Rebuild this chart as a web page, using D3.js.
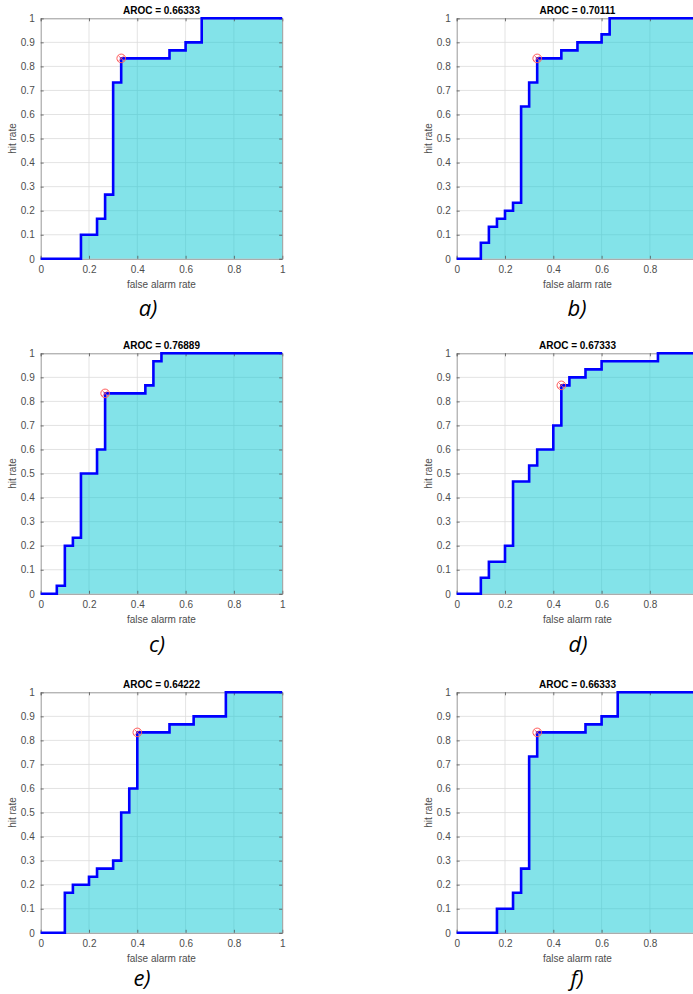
<!DOCTYPE html>
<html>
<head>
<meta charset="utf-8">
<script src="https://cdn.jsdelivr.net/npm/d3@7"></script>
<style>
  body { margin: 0; background: #fff; }
  svg { display: block; }
  .tick text { font-family: "Liberation Sans", Arial, sans-serif; font-size: 10px; fill: #4d4d4d; }
</style>
</head>
<body>
<svg id="chart" width="693" height="994"></svg>
<script>
// ROC step curves (false alarm rate / hit rate)
var aX = [0, 0.1667, 0.1667, 0.2333, 0.2333, 0.2667, 0.2667, 0.3, 0.3, 0.3333, 0.3333, 0.5333, 0.5333, 0.6, 0.6, 0.6667, 0.6667, 1];
var aY = [0, 0, 0.1, 0.1, 0.1667, 0.1667, 0.2667, 0.2667, 0.7333, 0.7333, 0.8333, 0.8333, 0.8667, 0.8667, 0.9, 0.9, 1, 1];

var bX = [0, 0.1, 0.1, 0.1333, 0.1333, 0.1667, 0.1667, 0.2, 0.2, 0.2333, 0.2333, 0.2667, 0.2667, 0.3, 0.3, 0.3333, 0.3333, 0.4333, 0.4333, 0.5, 0.5, 0.6, 0.6, 0.6333, 0.6333, 1];
var bY = [0, 0, 0.0667, 0.0667, 0.1333, 0.1333, 0.1667, 0.1667, 0.2, 0.2, 0.2333, 0.2333, 0.6333, 0.6333, 0.7333, 0.7333, 0.8333, 0.8333, 0.8667, 0.8667, 0.9, 0.9, 0.9333, 0.9333, 1, 1];

var cX = [0, 0.0667, 0.0667, 0.1, 0.1, 0.1333, 0.1333, 0.1667, 0.1667, 0.2333, 0.2333, 0.2667, 0.2667, 0.4333, 0.4333, 0.4667, 0.4667, 0.5, 0.5, 1];
var cY = [0, 0, 0.0333, 0.0333, 0.2, 0.2, 0.2333, 0.2333, 0.5, 0.5, 0.6, 0.6, 0.8333, 0.8333, 0.8667, 0.8667, 0.9667, 0.9667, 1, 1];

var dX = [0, 0.1, 0.1, 0.1333, 0.1333, 0.2, 0.2, 0.2333, 0.2333, 0.3, 0.3, 0.3333, 0.3333, 0.4, 0.4, 0.4333, 0.4333, 0.4667, 0.4667, 0.5333, 0.5333, 0.6, 0.6, 0.8333, 0.8333, 1];
var dY = [0, 0, 0.0667, 0.0667, 0.1333, 0.1333, 0.2, 0.2, 0.4667, 0.4667, 0.5333, 0.5333, 0.6, 0.6, 0.7, 0.7, 0.8667, 0.8667, 0.9, 0.9, 0.9333, 0.9333, 0.9667, 0.9667, 1, 1];

var eX = [0, 0.1, 0.1, 0.1333, 0.1333, 0.2, 0.2, 0.2333, 0.2333, 0.3, 0.3, 0.3333, 0.3333, 0.3667, 0.3667, 0.4, 0.4, 0.5333, 0.5333, 0.6333, 0.6333, 0.7667, 0.7667, 1];
var eY = [0, 0, 0.1667, 0.1667, 0.2, 0.2, 0.2333, 0.2333, 0.2667, 0.2667, 0.3, 0.3, 0.5, 0.5, 0.6, 0.6, 0.8333, 0.8333, 0.8667, 0.8667, 0.9, 0.9, 1, 1];

var fX = aX.slice();
var fY = aY.slice();

var titles = ["AROC = 0.66333", "AROC = 0.70111", "AROC = 0.76889", "AROC = 0.67333", "AROC = 0.64222", "AROC = 0.66333"];
var optX = [0.3333, 0.3333, 0.2667, 0.4333, 0.4, 0.3333];
var optY = [0.8333, 0.8333, 0.8333, 0.8667, 0.8333, 0.8333];
var panelLabels = ["a)", "b)", "c)", "d)", "e)", "f)"];
var xTicks = [0, 0.2, 0.4, 0.6, 0.8, 1];
var yTicks = [0, 0.1, 0.2, 0.3, 0.4, 0.5, 0.6, 0.7, 0.8, 0.9, 1];

var curves = [[aX, aY], [bX, bY], [cX, cY], [dX, dY], [eX, eY], [fX, fY]];

// layout
var W = 693;
var lefts = [40.7, 456.7];
var tops = [18.3, 353.3, 692.3];
var pw = 241.5, ph = 240.5;
var labelPos = [[148, 316], [577, 316], [157, 652], [578, 652], [142, 986], [577, 986]];

var svg = d3.select("#chart");
var font = '"Liberation Sans", Arial, sans-serif';
var fmt = function (d) { return d === 0 || d === 1 ? String(d) : d.toFixed(1); };

curves.forEach(function (c, i) {
  var left = lefts[i % 2], top = tops[Math.floor(i / 2)];
  var x = d3.scaleLinear().domain([0, 1]).range([0, pw]);
  var y = d3.scaleLinear().domain([0, 1]).range([ph, 0]);
  var pts = c[0].map(function (v, k) { return [v, c[1][k]]; });

  var g = svg.append("g").attr("transform", "translate(" + left + "," + top + ")");

  g.append("rect").attr("width", pw).attr("height", ph).attr("fill", "#fff");

  // grid
  g.append("g").selectAll("line").data(xTicks.slice(1, -1)).join("line")
    .attr("x1", function (d) { return x(d); }).attr("x2", function (d) { return x(d); })
    .attr("y1", 0).attr("y2", ph)
    .attr("stroke", "#dcdcdc").attr("stroke-width", 0.8);
  g.append("g").selectAll("line").data(yTicks.slice(1, -1)).join("line")
    .attr("y1", function (d) { return y(d); }).attr("y2", function (d) { return y(d); })
    .attr("x1", 0).attr("x2", pw)
    .attr("stroke", "#dcdcdc").attr("stroke-width", 0.8);

  // filled area under ROC
  var area = d3.area().x(function (d) { return x(d[0]); }).y0(y(0)).y1(function (d) { return y(d[1]); });
  g.append("path").datum(pts).attr("d", area)
    .attr("fill", "#07c7d3").attr("fill-opacity", 0.5);

  // axes (labels that fall past the page edge are left off, as in the source)
  var xAxis = d3.axisBottom(x).tickValues(xTicks).tickSize(-3).tickPadding(7)
    .tickFormat(function (d) { return left + x(d) + 4 > W ? "" : fmt(d); });
  var yAxis = d3.axisLeft(y).tickValues(yTicks).tickSize(-3).tickPadding(6).tickFormat(fmt);
  var gx = g.append("g").attr("transform", "translate(0," + ph + ")").call(xAxis);
  var gy = g.append("g").call(yAxis);
  var gx2 = g.append("g").call(d3.axisTop(x).tickValues(xTicks).tickSize(-3).tickFormat(""));
  var gy2 = g.append("g").attr("transform", "translate(" + pw + ",0)")
    .call(d3.axisRight(y).tickValues(yTicks).tickSize(-3).tickFormat(""));
  [gx, gy, gx2, gy2].forEach(function (a) {
    a.select(".domain").attr("stroke", "#8c8c8c").attr("stroke-width", 0.9);
    a.selectAll(".tick line").attr("stroke", "#555").attr("stroke-width", 0.8);
  });

  // ROC line
  var line = d3.line().x(function (d) { return x(d[0]); }).y(function (d) { return y(d[1]); });
  g.append("path").datum(pts).attr("d", line)
    .attr("fill", "none").attr("stroke", "#0000ff").attr("stroke-width", 2.6)
    .attr("stroke-linejoin", "miter");

  // optimal point marker
  var mx = x(optX[i]), my = y(optY[i]);
  g.append("circle").attr("cx", mx).attr("cy", my).attr("r", 4.3)
    .attr("fill", "none").attr("stroke", "#ff5a5a").attr("stroke-width", 1);
  g.append("path")
    .attr("d", "M" + (mx - 3) + "," + (my - 3) + "L" + (mx + 3) + "," + (my + 3) +
               "M" + (mx - 3) + "," + (my + 3) + "L" + (mx + 3) + "," + (my - 3))
    .attr("stroke", "#ff5a5a").attr("stroke-width", 0.9);

  // title and axis labels
  g.append("text").attr("x", pw / 2).attr("y", -4).attr("text-anchor", "middle")
    .attr("font-family", font).attr("font-size", 10).attr("font-weight", "bold").attr("fill", "#000")
    .text(titles[i]);
  g.append("text").attr("x", pw / 2).attr("y", ph + 29).attr("text-anchor", "middle")
    .attr("font-family", font).attr("font-size", 10).attr("fill", "#4d4d4d")
    .text("false alarm rate");
  g.append("text").attr("transform", "translate(-25," + (ph / 2) + ") rotate(-90)")
    .attr("text-anchor", "middle")
    .attr("font-family", font).attr("font-size", 10).attr("fill", "#4d4d4d")
    .text("hit rate");

  svg.append("text").attr("x", labelPos[i][0]).attr("y", labelPos[i][1]).attr("text-anchor", "middle")
    .attr("font-family", '"Open Sans", "Noto Sans", sans-serif').attr("font-style", "italic")
    .attr("font-size", 22).attr("fill", "#000")
    .text(panelLabels[i]);
});
</script>
</body>
</html>
